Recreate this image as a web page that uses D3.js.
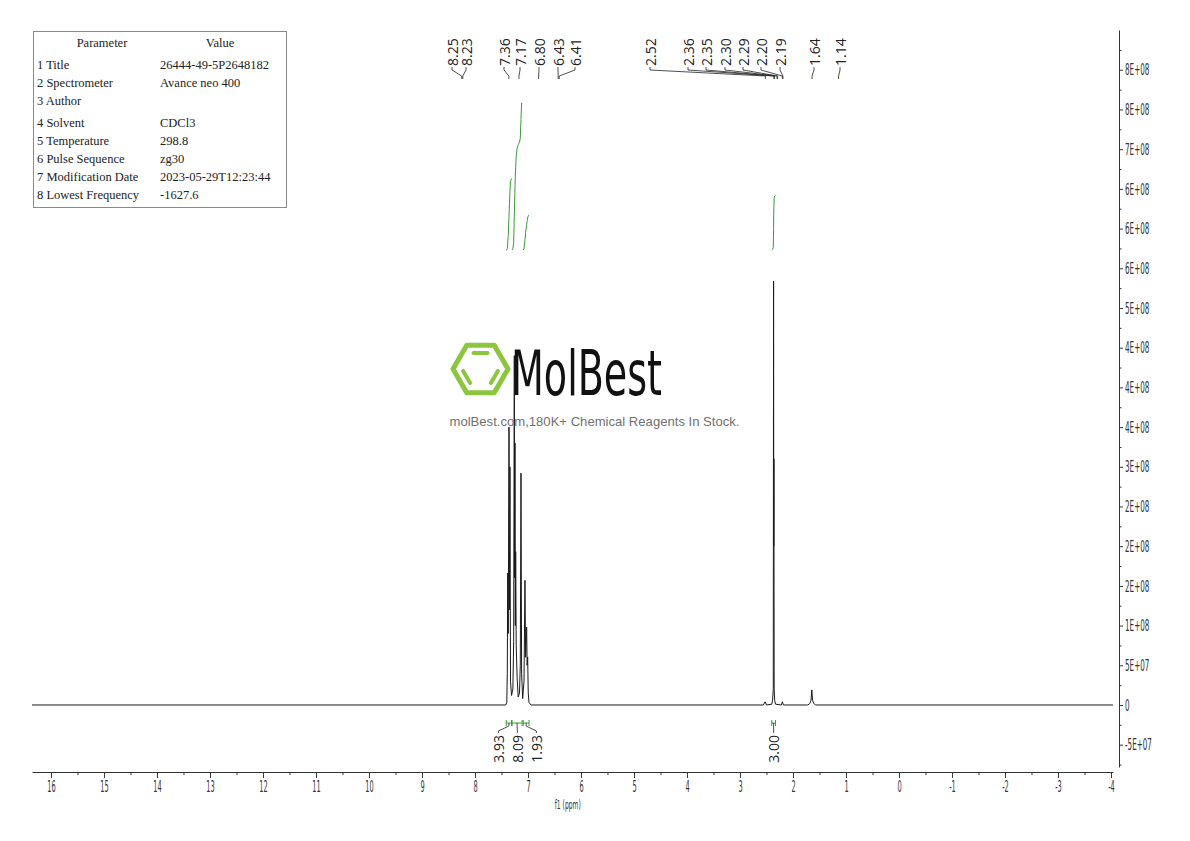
<!DOCTYPE html>
<html><head><meta charset="utf-8">
<script src="https://cdn.jsdelivr.net/npm/d3@7"></script>
<style>body{margin:0;background:#fff}svg{display:block}</style>
</head><body>
<svg id="c" width="1190" height="841"></svg>
<script>
// ---------------- DATA ----------------
const paramNames = ["Title","Spectrometer","Author","Solvent","Temperature","Pulse Sequence","Modification Date","Lowest Frequency"];
const paramValues = ["26444-49-5P2648182","Avance neo 400","","CDCl3","298.8","zg30","2023-05-29T12:23:44","-1627.6"];

// spectrum: [ppm, intensity]
const spectrum = [
  [16.358,0],[7.42,0],[7.40,0.03e8],[7.390,0.40e8],[7.383,1.66e8],[7.372,0.90e8],[7.358,3.50e8],[7.349,1.20e8],
  [7.340,3.00e8],[7.330,0.30e8],[7.310,0.12e8],[7.285,0.20e8],[7.270,0.80e8],[7.258,4.40e8],[7.251,1.60e8],
  [7.245,3.30e8],[7.239,1.00e8],[7.232,1.93e8],[7.222,0.75e8],[7.205,0.35e8],[7.185,0.10e8],[7.160,0.15e8],
  [7.145,0.50e8],[7.132,2.92e8],[7.120,0.40e8],[7.100,0.08e8],[7.075,0.30e8],[7.057,1.57e8],[7.045,0.60e8],
  [7.025,0.98e8],[7.016,0.50e8],[7.006,0.60e8],[6.995,0.15e8],[6.980,0.03e8],[6.94,0],
  [2.56,0],[2.525,0.04e8],[2.50,0],[2.40,0.01e8],[2.385,0.06e8],[2.372,0.20e8],[2.366,5.34e8],[2.363,2.0e8],
  [2.360,3.1e8],[2.355,0.20e8],[2.345,0.06e8],[2.33,0.01e8],[2.22,0],[2.20,0.04e8],[2.18,0],
  [1.72,0],[1.68,0.02e8],[1.66,0.06e8],[1.645,0.19e8],[1.63,0.06e8],[1.61,0.02e8],[1.57,0],[-4.038,0]
];

const peakLabels = ["8.25","8.23","7.36","7.17","6.80","6.43","6.41","2.52","2.36","2.35","2.30","2.29","2.20","2.19","1.64","1.14"];
const peakPpm = [8.25,8.23,7.36,7.17,6.80,6.43,6.41,2.52,2.36,2.35,2.30,2.29,2.20,2.19,1.64,1.14];

const integralFrom = [7.41,7.30,7.09,2.40];
const integralTo = [7.31,7.11,6.98,2.33];
const integralValues = [3.93,8.09,1.93,3.00];

const xTicks = [16,15,14,13,12,11,10,9,8,7,6,5,4,3,2,1,0,-1,-2,-3,-4];
const yTickValues = [-5e7,0,5e7,1e8,1.5e8,2e8,2.5e8,3e8,3.5e8,4e8,4.5e8,5e8,5.5e8,6e8,6.5e8,7e8,7.5e8,8e8];
const yTickLabels = ["-5E+07","0","5E+07","1E+08","2E+08","2E+08","2E+08","3E+08","4E+08","4E+08","4E+08","5E+08","6E+08","6E+08","6E+08","7E+08","8E+08","8E+08"];

// ---------------- LAYOUT ----------------
const peakLabelX = [452,466,504,520,539,558,575,650,688,706,725,743,761,780,814,840];
const condensed = '"Liberation Sans Narrow","Arial Narrow","DejaVu Sans",sans-serif';
function squeeze(sel, f){ sel.each(function(){ const L=this.getComputedTextLength(); if(L>0){ d3.select(this).attr("textLength",L*f).attr("lengthAdjust","spacingAndGlyphs"); } }); }

const svg = d3.select("#c");
const x = d3.scaleLinear().domain([16.358,-4.038]).range([32,1113]);
const y = d3.scaleLinear().domain([-0.781e8,8.501e8]).range([767,30]);

// bottom axis
const gx = svg.append("g").attr("transform","translate(0,772)");
gx.call(d3.axisBottom(x).tickValues(xTicks).tickSize(6).tickSizeOuter(0).tickPadding(3).tickFormat(d=>d));
gx.append("g").call(d3.axisBottom(x).tickValues(xTicks.slice(0,-1).map(d=>d-0.5)).tickSize(3).tickFormat(""))
  .select(".domain").remove();
gx.selectAll("path,line").attr("stroke","#333");
gx.selectAll("text").attr("fill","#333").style("font-family",condensed).style("font-size","15px");
squeeze(gx.selectAll("text"),0.44);
squeeze(svg.append("text").attr("x",x(6.25)).attr("y",809).attr("text-anchor","middle")
  .style("font-family",condensed).style("font-size","12px").attr("fill","#333").text("f1 (ppm)"),0.5);

// right axis
const gy = svg.append("g").attr("transform","translate(1119,0)");
gy.call(d3.axisRight(y).tickValues(yTickValues).tickSize(4).tickSizeOuter(0).tickPadding(2).tickFormat((d,i)=>yTickLabels[i]));
gy.append("g").call(d3.axisRight(y).tickValues(yTickValues.map(d=>d-2.5e7).concat([8.25e8])).tickSize(2.5).tickFormat(""))
  .select(".domain").remove();
gy.selectAll("path,line").attr("stroke","#333");
gy.selectAll("text").attr("fill","#333").style("font-family",condensed).style("font-size","16px");
squeeze(gy.selectAll("text"),0.45);

// spectrum
svg.append("path").datum(spectrum)
  .attr("d",d3.line().x(d=>x(d[0])).y(d=>y(d[1])))
  .attr("fill","none").attr("stroke","#1a1a1a").attr("stroke-width",1);

// integral curves
const intY = d3.scaleLinear().domain([0,8.09]).range([250,103]);
const green = "#3a9a3a";
integralValues.forEach((v,i)=>{
  const from = integralFrom[i], to = integralTo[i];
  const pts = spectrum.filter(d=>d[0]<=from && d[0]>=to);
  let cum=[[from,0]], s=0, prev=[from,0];
  pts.forEach(p=>{ s += (prev[0]-p[0])*(prev[1]+p[1])/2; cum.push([p[0],s]); prev=p; });
  cum.push([to,s]);
  const curve = cum.map(c=>[c[0], c[1]/s*v]);
  svg.append("path").datum(curve)
    .attr("d",d3.line().x(d=>x(d[0])).y(d=>intY(d[1])))
    .attr("fill","none").attr("stroke",green).attr("stroke-width",1);
});

// integral brackets and labels (spread labels)
const centers = integralValues.map((v,i)=>x((integralFrom[i]+integralTo[i])/2));
let clusters = centers.map((c,i)=>({idx:[i],c:[c]}));
function place(cl){ const m=d3.mean(cl.c); const n=cl.idx.length; return cl.idx.map((_,k)=>m+(k-(n-1)/2)*19); }
let changed=true;
while(changed){ changed=false;
  for(let k=0;k<clusters.length-1;k++){
    const a=place(clusters[k]), b=place(clusters[k+1]);
    if(b[0]-a[a.length-1] < 19){ clusters[k]={idx:clusters[k].idx.concat(clusters[k+1].idx), c:clusters[k].c.concat(clusters[k+1].c)}; clusters.splice(k+1,1); changed=true; break; }
  }
}
const intLabelX=[]; clusters.forEach(cl=>{ const p=place(cl); cl.idx.forEach((ix,k)=>intLabelX[ix]=p[k]); });
integralValues.forEach((v,i)=>{
  const x0=x(integralFrom[i]), x1=x(integralTo[i]);
  svg.append("path").attr("d",`M${x0},720V726M${x0},723H${x1}M${x1},720V726`)
    .attr("fill","none").attr("stroke",green).attr("stroke-width",1);
  const cx=centers[i], lx=intLabelX[i];
  svg.append("path").attr("d",`M${cx},723V726L${lx},731V733`).attr("fill","none").attr("stroke","#222").attr("stroke-width",0.8);
  svg.append("text").attr("transform",`translate(${lx},735) rotate(-90)`)
    .attr("text-anchor","end").attr("dominant-baseline","central")
    .style("font-family","'Open Sans',sans-serif").style("font-size","14px").attr("fill","#222")
    .text(v.toFixed(2));
});

// peak labels
peakLabels.forEach((t,i)=>{
  const lx=peakLabelX[i], px=x(peakPpm[i]);
  svg.append("text").attr("transform",`translate(${lx},66) rotate(-90)`)
    .attr("text-anchor","start").attr("dominant-baseline","central")
    .style("font-family","'Open Sans',sans-serif").style("font-size","14px").attr("fill","#222").text(t);
  svg.append("path").attr("d",`M${lx},67V70L${px},76V79`).attr("fill","none").attr("stroke","#222").attr("stroke-width",0.8);
});

// parameter table
const tb = svg.append("g");
tb.append("rect").attr("x",33.5).attr("y",31.5).attr("width",253).attr("height",176)
  .attr("fill","#fff").attr("stroke","#8a8a8a").attr("stroke-width",1);
const tf = "'Liberation Serif','DejaVu Serif',serif";
tb.append("text").attr("x",102).attr("y",47).attr("text-anchor","middle").style("font-family",tf).style("font-size","12.5px").attr("fill","#222").text("Parameter");
tb.append("text").attr("x",220).attr("y",47).attr("text-anchor","middle").style("font-family",tf).style("font-size","12.5px").attr("fill","#222").text("Value");
paramNames.forEach((p,i)=>{
  const yy = 69 + i*18 + (i>=3?4:0);
  tb.append("text").attr("x",37).attr("y",yy).style("font-family",tf).style("font-size","12.5px").attr("fill","#222").text((i+1)+" "+p);
  tb.append("text").attr("x",160).attr("y",yy).style("font-family",tf).style("font-size","12.5px").attr("fill","#222").text(paramValues[i]);
});

// logo watermark
const lg = svg.append("g");
const cx=480.5, cy=369, R=27.5, r=18.5;
const hex = d3.range(6).map(k=>[cx+R*Math.cos(k*Math.PI/3), cy+R*Math.sin(k*Math.PI/3)]);
lg.append("polygon").attr("points",hex.map(p=>p.join(",")).join(" "))
  .attr("fill","none").attr("stroke","#8cc63e").attr("stroke-width",5).attr("stroke-linejoin","round");
const iv = d3.range(6).map(k=>[cx+r*Math.cos(k*Math.PI/3), cy+r*Math.sin(k*Math.PI/3)]);
[[4,5],[2,3],[0,1]].forEach(([a,b])=>{
  const A=iv[a], B=iv[b], s=0.12;
  lg.append("line").attr("x1",A[0]+(B[0]-A[0])*s).attr("y1",A[1]+(B[1]-A[1])*s)
    .attr("x2",B[0]-(B[0]-A[0])*s).attr("y2",B[1]-(B[1]-A[1])*s)
    .attr("stroke","#8cc63e").attr("stroke-width",4).attr("stroke-linecap","round");
});
lg.append("text").attr("x",511).attr("y",395).attr("textLength",151).attr("lengthAdjust","spacingAndGlyphs")
  .style("font-family",condensed).style("font-size","62px").attr("fill","#111").text("MolBest");
lg.append("text").attr("x",594.5).attr("y",426).attr("text-anchor","middle")
  .style("font-family","'Liberation Sans',Arial,sans-serif").style("font-size","13.1px").attr("fill","#707070")
  .text("molBest.com,180K+ Chemical Reagents In Stock.");
</script>
</body></html>
